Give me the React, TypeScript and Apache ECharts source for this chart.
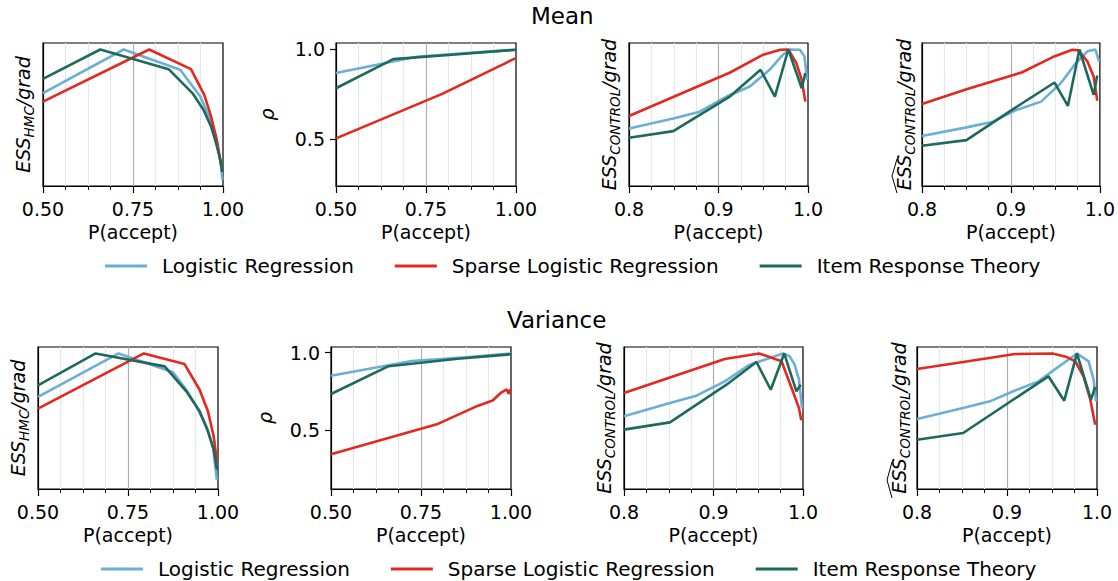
import React, { useEffect, useRef } from "react";
import * as echarts from "echarts";

const FONT = "'DejaVu Sans', sans-serif";

const seriesNames = ["Logistic Regression", "Sparse Logistic Regression", "Item Response Theory"];
const seriesColors = ["#6baed6", "#e3281f", "#1d6a5c"];

// ---- Mean: ESS_HMC / grad ----
const meanHmcLogX = [0.5, 0.724, 0.881, 0.937, 0.965, 0.983, 0.994, 0.998];
const meanHmcLogY = [0.664, 1.0, 0.844, 0.638, 0.457, 0.277, 0.123, 0.0];
const meanHmcSpX = [0.5, 0.795, 0.911, 0.948, 0.967, 0.983, 0.994, 0.998];
const meanHmcSpY = [0.599, 1.0, 0.849, 0.651, 0.483, 0.303, 0.123, 0.071];
const meanHmcIrtX = [0.5, 0.659, 0.849, 0.917, 0.946, 0.967, 0.981, 0.993, 0.998];
const meanHmcIrtY = [0.774, 1.0, 0.849, 0.658, 0.535, 0.406, 0.277, 0.148, 0.058];

// ---- Mean: rho ----
const meanRhoLogX = [0.5, 0.724, 0.881, 1.0];
const meanRhoLogY = [0.867, 0.957, 0.98, 0.996];
const meanRhoSpX = [0.5, 0.795, 0.911, 0.948, 0.967, 0.983, 0.998];
const meanRhoSpY = [0.506, 0.752, 0.864, 0.9, 0.918, 0.934, 0.948];
const meanRhoIrtX = [0.5, 0.659, 0.849, 1.0];
const meanRhoIrtY = [0.783, 0.944, 0.972, 0.996];

// ---- Mean: ESS_CONTROL / grad ----
const meanCtlLogX = [0.8, 0.8495, 0.879, 0.909, 0.935, 0.957, 0.972, 0.98, 0.991, 0.996, 0.999];
const meanCtlLogY = [0.393, 0.47, 0.522, 0.638, 0.715, 0.844, 0.96, 1.0, 0.998, 0.947, 0.767];
const meanCtlSpX = [0.8, 0.913, 0.95, 0.969, 0.978, 0.987, 0.993, 0.997];
const meanCtlSpY = [0.488, 0.823, 0.96, 0.998, 1.0, 0.895, 0.767, 0.599];
const meanCtlIrtX = [0.8, 0.8495, 0.913, 0.947, 0.963, 0.978, 0.993, 0.997];
const meanCtlIrtY = [0.321, 0.372, 0.64, 0.844, 0.638, 1.0, 0.702, 0.818];

// ---- Mean: estimated ESS_CONTROL / grad ----
const meanHatLogX = [0.8, 0.85, 0.88, 0.906, 0.934, 0.956, 0.973, 0.986, 0.995, 0.999];
const meanHatLogY = [0.334, 0.401, 0.445, 0.535, 0.599, 0.741, 0.895, 0.986, 1.0, 0.908];
const meanHatSpX = [0.8, 0.85, 0.912, 0.947, 0.969, 0.976, 0.986, 0.993, 0.997];
const meanHatSpY = [0.581, 0.694, 0.823, 0.942, 0.998, 0.993, 0.908, 0.792, 0.607];
const meanHatIrtX = [0.8, 0.85, 0.902, 0.949, 0.964, 0.977, 0.993, 0.997];
const meanHatIrtY = [0.259, 0.303, 0.54, 0.746, 0.566, 1.0, 0.651, 0.8];

// ---- Variance: ESS_HMC / grad ----
const varHmcLogX = [0.5, 0.724, 0.875, 0.912, 0.94, 0.968, 0.986, 0.997];
const varHmcLogY = [0.663, 1.0, 0.854, 0.719, 0.59, 0.434, 0.279, 0.017];
const varHmcSpX = [0.5, 0.794, 0.907, 0.949, 0.972, 0.988, 0.997];
const varHmcSpY = [0.572, 1.0, 0.918, 0.719, 0.552, 0.358, 0.164];
const varHmcIrtX = [0.5, 0.66, 0.852, 0.912, 0.949, 0.972, 0.988, 0.997];
const varHmcIrtY = [0.753, 1.0, 0.9, 0.707, 0.552, 0.397, 0.255, 0.1];

// ---- Variance: rho ----
const varRhoLogX = [0.5, 0.724, 0.875, 1.0];
const varRhoLogY = [0.85, 0.945, 0.97, 0.994];
const varRhoSpX = [0.5, 0.794, 0.907, 0.949, 0.972, 0.988, 0.994, 0.997, 1.0];
const varRhoSpY = [0.343, 0.536, 0.655, 0.69, 0.74, 0.762, 0.732, 0.76, 0.757];
const varRhoIrtX = [0.5, 0.66, 0.852, 1.0];
const varRhoIrtY = [0.732, 0.912, 0.96, 0.989];

// ---- Variance: ESS_CONTROL / grad ----
const varCtlLogX = [0.8, 0.8513, 0.881, 0.9126, 0.9405, 0.963, 0.9777, 0.985, 0.9907, 0.9955, 0.9989];
const varCtlLogY = [0.513, 0.616, 0.673, 0.784, 0.913, 0.965, 1.0, 0.978, 0.913, 0.797, 0.577];
const varCtlSpX = [0.8, 0.9126, 0.951, 0.976, 0.988, 0.9955, 0.9981];
const varCtlSpY = [0.694, 0.957, 1.0, 0.939, 0.719, 0.577, 0.482];
const varCtlIrtX = [0.8, 0.8513, 0.9145, 0.948, 0.964, 0.979, 0.9926, 0.9974];
const varCtlIrtY = [0.41, 0.466, 0.758, 0.934, 0.719, 1.0, 0.707, 0.758];

// ---- Variance: estimated ESS_CONTROL / grad ----
const varHatLogX = [0.8, 0.8513, 0.881, 0.907, 0.935, 0.9517, 0.9777, 0.9907, 0.9963, 0.9989];
const varHatLogY = [0.492, 0.577, 0.629, 0.707, 0.784, 0.869, 1.0, 0.939, 0.797, 0.629];
const varHatSpX = [0.8, 0.8513, 0.909, 0.9506, 0.9665, 0.976, 0.985, 0.9926, 0.998];
const varHatSpY = [0.88, 0.934, 0.996, 1.0, 0.972, 0.939, 0.823, 0.642, 0.448];
const varHatIrtX = [0.8, 0.8513, 0.946, 0.9636, 0.9777, 0.9933, 0.998];
const varHatIrtY = [0.332, 0.384, 0.823, 0.634, 1.0, 0.642, 0.74];

const panelTitles = ["Mean", "Variance"];

type Kind = "hmc" | "rho" | "ctl" | "hat";

const panels: { kind: Kind; wide: boolean; ymin: number; ymax: number; lines: number[][][] }[] = [
  { kind: "hmc", wide: true, ymin: -0.05, ymax: 1.05, lines: [[meanHmcLogX, meanHmcLogY], [meanHmcSpX, meanHmcSpY], [meanHmcIrtX, meanHmcIrtY]] },
  { kind: "rho", wide: true, ymin: 0.243, ymax: 1.033, lines: [[meanRhoLogX, meanRhoLogY], [meanRhoSpX, meanRhoSpY], [meanRhoIrtX, meanRhoIrtY]] },
  { kind: "ctl", wide: false, ymin: -0.05, ymax: 1.05, lines: [[meanCtlLogX, meanCtlLogY], [meanCtlSpX, meanCtlSpY], [meanCtlIrtX, meanCtlIrtY]] },
  { kind: "hat", wide: false, ymin: -0.05, ymax: 1.05, lines: [[meanHatLogX, meanHatLogY], [meanHatSpX, meanHatSpY], [meanHatIrtX, meanHatIrtY]] },
  { kind: "hmc", wide: true, ymin: -0.05, ymax: 1.05, lines: [[varHmcLogX, varHmcLogY], [varHmcSpX, varHmcSpY], [varHmcIrtX, varHmcIrtY]] },
  { kind: "rho", wide: true, ymin: 0.118, ymax: 1.036, lines: [[varRhoLogX, varRhoLogY], [varRhoSpX, varRhoSpY], [varRhoIrtX, varRhoIrtY]] },
  { kind: "ctl", wide: false, ymin: -0.05, ymax: 1.05, lines: [[varCtlLogX, varCtlLogY], [varCtlSpX, varCtlSpY], [varCtlIrtX, varCtlIrtY]] },
  { kind: "hat", wide: false, ymin: -0.05, ymax: 1.05, lines: [[varHatLogX, varHatLogY], [varHatSpX, varHatSpY], [varHatIrtX, varHatIrtY]] },
];

const gridBoxes = [
  { left: 43, top: 43, width: 180, height: 143 },
  { left: 336, top: 43, width: 180, height: 143 },
  { left: 629, top: 43, width: 179, height: 143 },
  { left: 922, top: 43, width: 179, height: 143 },
  { left: 38, top: 347, width: 180, height: 142 },
  { left: 331, top: 347, width: 180, height: 142 },
  { left: 624, top: 347, width: 179, height: 142 },
  { left: 917, top: 347, width: 180, height: 142 },
];

const richStyles = {
  m: { fontSize: 19, fontStyle: "italic", fontFamily: FONT, color: "#000", lineHeight: 26, verticalAlign: "middle" },
  s: { fontSize: 13.5, fontStyle: "italic", fontFamily: FONT, color: "#000", lineHeight: 14, verticalAlign: "bottom" },
};

function yName(kind: Kind) {
  if (kind === "hmc") return "{m|ESS}{s|HMC}{m|/grad}";
  if (kind === "rho") return "{m|ρ}";
  return "{m|ESS}{s|CONTROL}{m|/grad}";
}

function pairs(xs: number[], ys: number[]) {
  return xs.map((x, i) => [x, ys[i]]);
}

export default function App() {
  const ref = useRef<HTMLDivElement>(null);
  useEffect(() => {
    if (!ref.current) return;
    const chart = echarts.init(ref.current, null, { renderer: "svg" });

    const grid = gridBoxes.map((g) => ({
      ...g,
      show: true,
      borderColor: "#000",
      borderWidth: 1.2,
      backgroundColor: "transparent",
    }));

    const xAxis = panels.map((p, i) => ({
      type: "value",
      gridIndex: i,
      min: p.wide ? 0.5 : 0.8,
      max: 1.0,
      interval: p.wide ? 0.25 : 0.1,
      name: "P(accept)",
      nameLocation: "middle",
      nameGap: 36,
      nameTextStyle: { fontSize: 19, fontFamily: FONT, color: "#000" },
      axisLine: { show: true, onZero: false, lineStyle: { color: "#000", width: 1.2 } },
      axisTick: { show: true, length: 7, lineStyle: { color: "#000", width: 1.2 } },
      minorTick: { show: true, splitNumber: 4, length: 4, lineStyle: { color: "#000", width: 1 } },
      axisLabel: {
        fontSize: 19,
        fontFamily: FONT,
        color: "#000",
        margin: 13,
        formatter: (v: number) => v.toFixed(p.wide ? 2 : 1),
      },
      splitLine: { show: true, showMinLine: false, showMaxLine: false, lineStyle: { color: "#b0b0b0", width: 1.2 } },
      minorSplitLine: { show: true, lineStyle: { color: "#e6e6e6", width: 1.2 } },
    }));

    const yAxis = panels.map((p, i) => {
      const base: any = {
        type: "value",
        gridIndex: i,
        min: p.ymin,
        max: p.ymax,
        name: yName(p.kind),
        nameLocation: "middle",
        nameRotate: 90,
        nameGap: p.kind === "rho" ? (i < 4 ? 56 : 53) : p.kind === "hat" ? 5 : 7,
        nameTextStyle: { rich: richStyles },
        axisLine: { show: true, onZero: false, lineStyle: { color: "#000", width: 1.2 } },
        splitLine: { show: false },
      };
      if (p.kind === "rho") {
        base.axisTick = { show: true, length: 6, customValues: [0.5, 1.0], lineStyle: { color: "#000", width: 1.2 } };
        base.axisLabel = {
          show: true,
          customValues: [0.5, 1.0],
          fontSize: 19,
          fontFamily: FONT,
          color: "#000",
          margin: 11,
          formatter: (v: number) => v.toFixed(1),
        };
      } else {
        base.axisTick = { show: false };
        base.axisLabel = { show: false };
      }
      return base;
    });

    const series: any[] = [];
    panels.forEach((p, i) => {
      p.lines.forEach((ln, k) => {
        series.push({
          type: "line",
          name: seriesNames[k],
          xAxisIndex: i,
          yAxisIndex: i,
          data: pairs(ln[0], ln[1]),
          showSymbol: false,
          symbol: "none",
          clip: true,
          color: seriesColors[k],
          lineStyle: { color: seriesColors[k], width: 2.6 },
          emphasis: { disabled: true },
          z: 3 + k,
        });
      });
    });

    const legendCommon = {
      orient: "horizontal",
      icon: "rect",
      itemWidth: 42,
      itemHeight: 3,
      itemGap: 41,
      padding: 0,
      selectedMode: false,
      data: seriesNames,
      textStyle: { fontSize: 20, fontFamily: FONT, color: "#000", lineHeight: 22, padding: [0, 0, 0, 10] },
    };

    const hatStyle = { stroke: "#000", lineWidth: 1, fill: "none" };

    const option: any = {
      animation: false,
      backgroundColor: "#fff",
      title: [
        {
          text: panelTitles[0],
          left: 531,
          top: 4,
          padding: 0,
          textStyle: { fontSize: 23, fontWeight: "normal", fontFamily: FONT, color: "#000" },
        },
        {
          text: panelTitles[1],
          left: 507,
          top: 308,
          padding: 0,
          textStyle: { fontSize: 23, fontWeight: "normal", fontFamily: FONT, color: "#000" },
        },
      ],
      legend: [
        { ...legendCommon, left: 105, top: 255 },
        { ...legendCommon, left: 101, top: 558 },
      ],
      grid,
      xAxis,
      yAxis,
      series,
      graphic: [
        { type: "polyline", shape: { points: [[897, 193], [892, 176], [897, 159]] }, style: hatStyle, silent: true },
        { type: "polyline", shape: { points: [[892, 498], [887, 480], [892, 462]] }, style: hatStyle, silent: true },
      ],
    };

    chart.setOption(option);
    return () => chart.dispose();
  }, []);

  return <div ref={ref} style={{ position: "absolute", left: 0, top: 0, width: 1118, height: 581 }} />;
}
